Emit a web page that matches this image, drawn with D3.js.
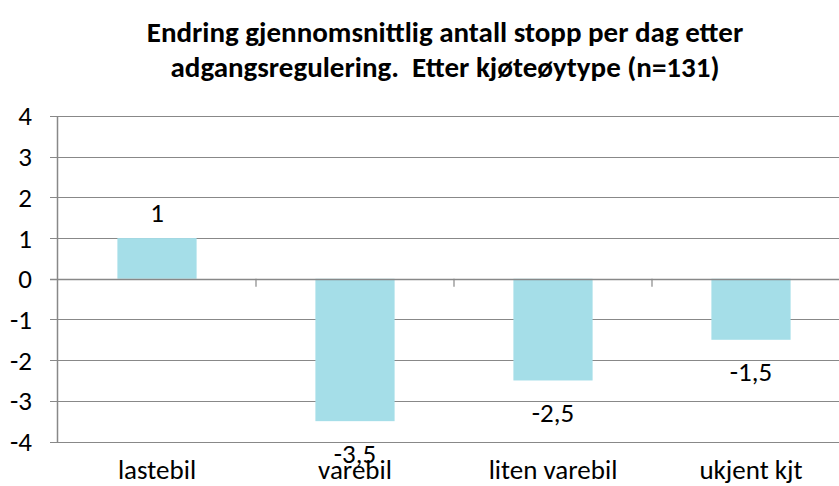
<!DOCTYPE html>
<html>
<head>
<meta charset="utf-8">
<script src="https://cdn.jsdelivr.net/npm/d3@7"></script>
<style>
  body { margin: 0; background: #fff; }
  svg { display: block; font-family: Carlito, "Open Sans", sans-serif; }
</style>
</head>
<body>
<div id="chart"></div>
<script>
// Data
const categories = ['lastebil', 'varebil', 'liten varebil', 'ukjent kjt'];
const values = [1, -3.5, -2.5, -1.5];
const yTicks = [-4, -3, -2, -1, 0, 1, 2, 3, 4];
const titleLines = [
  'Endring gjennomsnittlig antall stopp per dag etter',
  'adgangsregulering.  Etter kjøteøytype (n=131)'
];

const width = 839, height = 486;
const margin = { top: 116, right: -11, bottom: 45, left: 58 };

const svg = d3.select('#chart').append('svg')
  .attr('width', width)
  .attr('height', height);

const x = d3.scaleBand()
  .domain(categories)
  .range([margin.left, width - margin.right]);

const y = d3.scaleLinear()
  .domain([-4, 4])
  .range([height - margin.bottom + 0.5, margin.top]);

// Title
svg.append('g').selectAll('text')
  .data(titleLines)
  .join('text')
  .attr('x', 445)
  .attr('y', (d, i) => 42 + i * 35)
  .attr('text-anchor', 'middle')
  .attr('font-size', '29px')
  .attr('font-weight', 'bold')
  .attr('fill', '#000')
  .style('white-space', 'pre')
  .text(d => d);

// Gridlines
svg.append('g').selectAll('line')
  .data(yTicks)
  .join('line')
  .attr('x1', margin.left - 8)
  .attr('x2', width)
  .attr('y1', d => Math.round(y(d)) + 0.5)
  .attr('y2', d => Math.round(y(d)) + 0.5)
  .attr('stroke', '#888')
  .attr('stroke-width', 1.2);

// Y tick labels
svg.append('g').selectAll('text')
  .data(yTicks)
  .join('text')
  .attr('x', 32)
  .attr('y', d => y(d))
  .attr('dy', '0.35em')
  .attr('text-anchor', 'end')
  .attr('font-size', '27px')
  .attr('fill', '#000')
  .text(d => d);

// Bars
const barW = x.bandwidth() * 0.4;
svg.append('g').selectAll('rect')
  .data(values)
  .join('rect')
  .attr('x', (d, i) => x(categories[i]) + (x.bandwidth() - barW) / 2)
  .attr('width', barW)
  .attr('y', d => y(Math.max(0, d)))
  .attr('height', d => Math.abs(y(d) - y(0)))
  .attr('fill', '#a5dee8');

// Zero line and y axis line on top
svg.append('line')
  .attr('x1', margin.left - 8).attr('x2', width)
  .attr('y1', Math.round(y(0)) + 0.5).attr('y2', Math.round(y(0)) + 0.5)
  .attr('stroke', '#888').attr('stroke-width', 1.5);

svg.append('line')
  .attr('x1', margin.left - 0.5).attr('x2', margin.left - 0.5)
  .attr('y1', y(4)).attr('y2', y(-4) + 1)
  .attr('stroke', '#888').attr('stroke-width', 1.5);

// Category tick marks on zero line
svg.append('g').selectAll('line')
  .data(categories.slice(1))
  .join('line')
  .attr('x1', d => x(d)).attr('x2', d => x(d))
  .attr('y1', y(0)).attr('y2', y(0) + 8)
  .attr('stroke', '#888').attr('stroke-width', 1.2);

// Value labels
svg.append('g').selectAll('text')
  .data(values)
  .join('text')
  .attr('x', (d, i) => x(categories[i]) + x.bandwidth() / 2)
  .attr('y', d => d >= 0 ? y(d) - 26 : y(d) + 32)
  .attr('dy', '0.35em')
  .attr('text-anchor', 'middle')
  .attr('font-size', '27px')
  .attr('fill', '#000')
  .text(d => String(d).replace('.', ','));

// Category labels
svg.append('g').selectAll('text')
  .data(categories)
  .join('text')
  .attr('x', d => x(d) + x.bandwidth() / 2)
  .attr('y', 479)
  .attr('text-anchor', 'middle')
  .attr('font-size', '27px')
  .attr('fill', '#000')
  .text(d => d);
</script>
</body>
</html>
